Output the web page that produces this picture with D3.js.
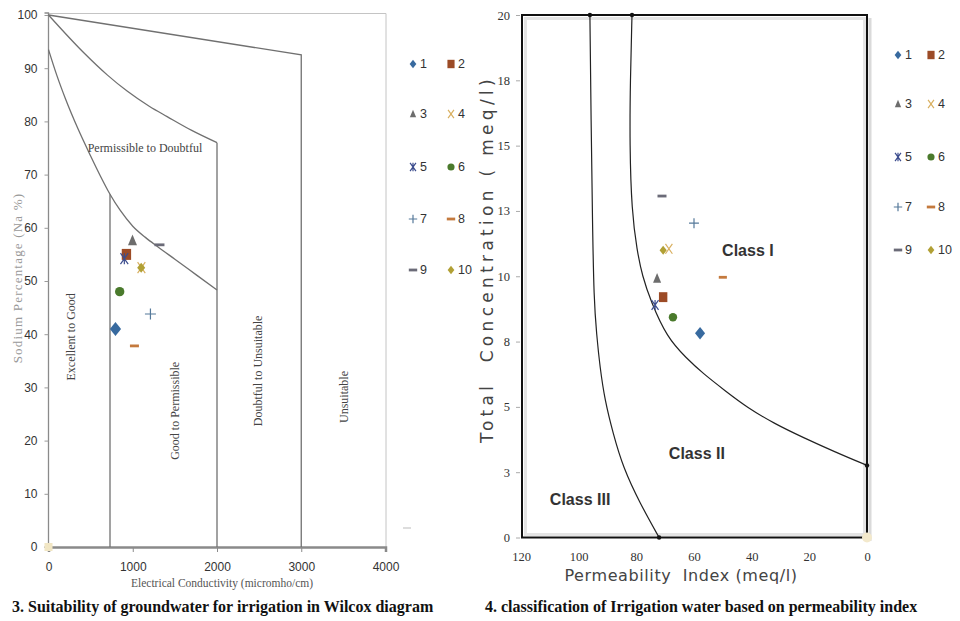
<!DOCTYPE html>
<html><head><meta charset="utf-8">
<script src="https://cdn.jsdelivr.net/npm/d3@7"></script>
<style>body{margin:0;background:#fff}svg{display:block}</style>
</head><body>
<svg id="c" width="960" height="621"></svg>
<script>
// ---------- data ----------
const sampleIds = ["1","2","3","4","5","6","7","8","9","10"];
// Wilcox diagram: EC (micromho/cm) and sodium percentage
const wilcoxEC = [795, 925, 997, 1103, 900, 845, 1210, 1020, 1317, 1100];
const wilcoxNa = [41.0, 55.0, 57.6, 52.5, 54.2, 48.0, 43.8, 37.8, 56.8, 52.5];
// Doneen diagram: permeability index and total concentration
const permIndex = [57.9, 70.7, 72.8, 68.7, 73.5, 67.3, 60.0, 50.0, 71.1, 70.7];
const totalConc = [7.82, 9.2, 9.92, 11.05, 8.9, 8.43, 12.03, 9.96, 13.07, 11.0];

const ecTicks = [0, 1000, 2000, 3000, 4000];
const naTicks = [0, 10, 20, 30, 40, 50, 60, 70, 80, 90, 100];
const piTicks = [120, 100, 80, 60, 40, 20, 0];
const tcTicks = [0, 2.5, 5, 7.5, 10, 12.5, 15, 17.5, 20];
const tcTickLabels = ["0", "3", "5", "8", "10", "13", "15", "18", "20"];

// Wilcox boundary lines [EC, Na%]
const wilcoxLineTop = [[0, 100], [3000, 92.5], [3000, 0]];
const wilcoxCurveMid = [[0, 100], [419, 92.9], [700, 88.7], [933, 85.7], [1200, 82.8], [1408, 80.9], [1700, 78.3], [2000, 76.0]];
const wilcoxVert2000 = [[2000, 76.0], [2000, 0]];
const wilcoxCurveLow = [[0, 93.5], [100, 88.6], [200, 84.3], [350, 78.6], [500, 73.5], [620, 69.6], [730, 66.3],
  [850, 63.3], [1000, 60.3], [1150, 58.2], [1300, 56.4], [1500, 54.1], [1750, 51.2], [2000, 48.3]];
const wilcoxVert730 = [[730, 66.3], [730, 0]];
const wilcoxZones = ["Permissible to Doubtful", "Excellent to Good", "Good to Permissible", "Doubtful to Unsuitable", "Unsuitable"];

// Doneen boundary lines [PI, TC]
const classIIIBoundary = [[96.1, 20], [95.7, 16], [95.2, 12], [94.7, 9.1], [93.8, 7.8], [92.6, 6.5], [90.9, 5.25],
  [88.1, 4.0], [84.6, 2.68], [78.7, 1.3], [72.1, 0]];
const classIBoundary = [[81.5, 20], [82.1, 17.5], [82.3, 15], [81.6, 12.5], [79.8, 11], [77.9, 10],
  [75.0, 9.05], [69.4, 7.66], [62.5, 6.85], [56.9, 6.28], [49, 5.6], [41.6, 4.98], [32, 4.35], [22.2, 3.83], [11, 3.27], [0, 2.76]];
const classNames = ["Class I", "Class II", "Class III"];

// ---------- styles ----------
const markerTypes = ["diamond", "square", "triangle", "x", "star", "circle", "plus", "dash", "dash", "diamond"];
const markerColors = ["#386a9f", "#9c4b26", "#6d6d6d", "#d9b061", "#3c4d8e", "#4a7a2c", "#55799a", "#c47a3e", "#6b6b78", "#b1a035"];
const markerSizes = [7, 5.5, 6, 5.5, 5.5, 5.5, 5.5, 4.5, 5, 5];

const svg = d3.select("#c");

function marker(g, type, r, color) {
  const s = g.append("path");
  let d;
  switch (type) {
    case "diamond": d = `M0,${-r}L${r * 0.8},0L0,${r}L${-r * 0.8},0Z`; s.attr("fill", color); break;
    case "square": d = `M${-r * 0.85},${-r}H${r * 0.85}V${r}H${-r * 0.85}Z`; s.attr("fill", color); break;
    case "triangle": d = `M0,${-r}L${r * 0.75},${r * 0.8}L${-r * 0.75},${r * 0.8}Z`; s.attr("fill", color); break;
    case "circle": d = d3.arc()({innerRadius: 0, outerRadius: r * 0.85, startAngle: 0, endAngle: 2 * Math.PI}); s.attr("fill", color); break;
    case "x": d = `M${-r * 0.7},${-r}L${r * 0.7},${r}M${r * 0.7},${-r}L${-r * 0.7},${r}`; s.attr("fill", "none").attr("stroke", color).attr("stroke-width", 1.2); break;
    case "star": d = `M${-r * 0.7},${-r}L${r * 0.7},${r}M${r * 0.7},${-r}L${-r * 0.7},${r}M0,${-r}V${r}`; s.attr("fill", "none").attr("stroke", color).attr("stroke-width", 1.2); break;
    case "plus": d = `M${-r},0H${r}M0,${-r}V${r}`; s.attr("fill", "none").attr("stroke", color).attr("stroke-width", 1.2); break;
    case "dash": d = `M${-r},-1.4H${r}V1.4H${-r}Z`; s.attr("fill", color); break;
  }
  s.attr("d", d);
}

// ================= LEFT: Wilcox =================
const xL = d3.scaleLinear().domain([0, 4000]).range([48.5, 385.5]);
const yL = d3.scaleLinear().domain([0, 100]).range([547, 15]);
const L = svg.append("g");

// frame
L.append("line").attr("x1", 48).attr("x2", 386).attr("y1", 13.5).attr("y2", 13.5).attr("stroke", "#c4c4c4");
L.append("line").attr("x1", 386).attr("x2", 386).attr("y1", 13.5).attr("y2", 547).attr("stroke", "#c4c4c4");

// axes
const yAxL = d3.axisLeft(yL).tickValues(naTicks).tickSize(4).tickPadding(7);
const gyL = L.append("g").attr("transform", `translate(${xL(0)},0)`).call(yAxL);
gyL.select(".domain").attr("stroke", "#8a8a8a").attr("stroke-width", 1.3).attr("d", `M-4,${yL(100) - 2}H0V${yL(0)}H-4`);
gyL.selectAll(".tick line").attr("stroke", "#9a9a9a");
gyL.selectAll("text").attr("font-family", "Liberation Sans, Arial, sans-serif").attr("font-size", 12).attr("fill", "#333");

const xAxL = d3.axisBottom(xL).tickValues(ecTicks).tickFormat(d3.format("d")).tickSize(5).tickPadding(10);
const gxL = L.append("g").attr("transform", `translate(0,${yL(0)})`).call(xAxL);
gxL.select(".domain").attr("stroke", "#8a8a8a").attr("stroke-width", 2.5);
gxL.selectAll(".tick line").attr("stroke", "#8a8a8a");
gxL.selectAll("text").attr("font-family", "Liberation Sans, Arial, sans-serif").attr("font-size", 12).attr("fill", "#333");

// boundary lines
const lineL = d3.line().x(d => xL(d[0])).y(d => yL(d[1]));
const curveL = d3.line().x(d => xL(d[0])).y(d => yL(d[1])).curve(d3.curveMonotoneX);
[[wilcoxLineTop, lineL], [wilcoxCurveMid, curveL], [wilcoxVert2000, lineL], [wilcoxCurveLow, curveL], [wilcoxVert730, lineL]]
  .forEach(([pts, gen]) => L.append("path").attr("d", gen(pts)).attr("fill", "none").attr("stroke", "#707070").attr("stroke-width", 1.3));

// zone labels
const zoneFont = "Liberation Serif, Times New Roman, serif";
L.append("text").attr("x", xL(1145)).attr("y", yL(75)).attr("text-anchor", "middle").attr("dominant-baseline", "central")
  .attr("font-family", zoneFont).attr("font-size", 12).attr("fill", "#444").text(wilcoxZones[0]);
const rotZones = [[1, 267, 39.5], [2, 1500, 25.6], [3, 2485, 33.1], [4, 3505, 28.2]];
rotZones.forEach(([i, ec, na]) => {
  L.append("text").attr("transform", `translate(${xL(ec)},${yL(na)}) rotate(-90)`).attr("text-anchor", "middle")
    .attr("dominant-baseline", "central").attr("font-family", zoneFont).attr("font-size", 12).attr("fill", "#444").text(wilcoxZones[i]);
});

// axis titles
L.append("text").attr("transform", "translate(17,278) rotate(-90)").attr("text-anchor", "middle").attr("dominant-baseline", "central")
  .attr("font-family", zoneFont).attr("font-size", 13).attr("letter-spacing", 1.2).attr("fill", "#999").text("Sodium Percentage (Na %)");
L.append("text").attr("x", 222).attr("y", 583).attr("text-anchor", "middle").attr("dominant-baseline", "central")
  .attr("font-family", zoneFont).attr("font-size", 11.5).attr("fill", "#555").text("Electrical Conductivity (micromho/cm)");

// origin faint marker
L.append("rect").attr("x", xL(0) - 4).attr("y", yL(0) - 4).attr("width", 8).attr("height", 8).attr("fill", "#f1e6c4");

// points
sampleIds.forEach((id, i) => {
  const g = L.append("g").attr("transform", `translate(${xL(wilcoxEC[i])},${yL(wilcoxNa[i])})`);
  marker(g, markerTypes[i], markerSizes[i], markerColors[i]);
});

// ================= RIGHT: Doneen =================
const xR = d3.scaleLinear().domain([120, 0]).range([521, 867]);
const yR = d3.scaleLinear().domain([0, 20]).range([537.5, 15]);
const R = svg.append("g");

// shadow + frame
R.append("rect").attr("x", 525.5).attr("y", 18.5).attr("width", 339).attr("height", 516).attr("fill", "none").attr("stroke", "#e4e4e4").attr("stroke-width", 3);
R.append("line").attr("x1", 870).attr("x2", 870).attr("y1", 18).attr("y2", 541).attr("stroke", "#dadada").attr("stroke-width", 3);

const yAxR = d3.axisLeft(yR).tickValues(tcTicks).tickFormat((d, i) => tcTickLabels[i]).tickSize(4).tickPadding(6);
const gyR = R.append("g").attr("transform", `translate(${xR(120) - 1},0)`).call(yAxR);
gyR.select(".domain").remove();
gyR.selectAll(".tick line").attr("stroke", "#aaa");
gyR.selectAll("text").attr("font-family", "Liberation Serif, Times New Roman, serif").attr("font-size", 12.5).attr("fill", "#333");

const xAxR = d3.axisBottom(xR).tickValues(piTicks).tickSize(0).tickPadding(15);
const gxR = R.append("g").attr("transform", `translate(0,${yR(0)})`).call(xAxR);
gxR.select(".domain").remove();
gxR.selectAll("text").attr("font-family", "Liberation Serif, Times New Roman, serif").attr("font-size", 12.5).attr("fill", "#333");

R.append("rect").attr("x", 522).attr("y", 15).attr("width", 345).attr("height", 522.5).attr("fill", "none").attr("stroke", "#111").attr("stroke-width", 2);

// boundaries
const curveR = d3.line().x(d => xR(d[0])).y(d => yR(d[1])).curve(d3.curveBasis);
[classIIIBoundary, classIBoundary].forEach(pts => {
  R.append("path").attr("d", curveR(pts)).attr("fill", "none").attr("stroke", "#222").attr("stroke-width", 1.2);
});
[classIIIBoundary[0], classIIIBoundary[classIIIBoundary.length - 1], classIBoundary[0], classIBoundary[classIBoundary.length - 1]]
  .forEach(p => R.append("circle").attr("cx", xR(p[0])).attr("cy", yR(p[1])).attr("r", 2.2).attr("fill", "#111"));

// class labels
const classPos = [[41.3, 11.0], [59, 3.2], [99.5, 1.45]];
classNames.forEach((n, i) => {
  R.append("text").attr("x", xR(classPos[i][0])).attr("y", yR(classPos[i][1])).attr("text-anchor", "middle").attr("dominant-baseline", "central")
    .attr("font-family", "Liberation Sans, Arial, sans-serif").attr("font-weight", "bold").attr("font-size", 16).attr("fill", "#333").text(n);
});

// axis titles
R.append("text").attr("transform", "translate(487,259) rotate(-90)").attr("text-anchor", "middle").attr("dominant-baseline", "central")
  .attr("font-family", "DejaVu Sans, Verdana, sans-serif").attr("font-size", 17).attr("letter-spacing", 4.3).attr("fill", "#444")
  .style("white-space", "pre").text("Total  Concentration ( meq/l)");
R.append("text").attr("x", 681).attr("y", 575).attr("text-anchor", "middle").attr("dominant-baseline", "central")
  .attr("font-family", "DejaVu Sans, Verdana, sans-serif").attr("font-size", 16).attr("letter-spacing", 0.6).attr("fill", "#444")
  .style("white-space", "pre").text("Permeability  Index (meq/l)");

// origin faint marker
R.append("circle").attr("cx", xR(0)).attr("cy", yR(0)).attr("r", 5).attr("fill", "#f3e9cc");

// points
sampleIds.forEach((id, i) => {
  const g = R.append("g").attr("transform", `translate(${xR(permIndex[i])},${yR(totalConc[i])})`);
  marker(g, markerTypes[i], markerSizes[i] * 0.9, markerColors[i]);
});

// ================= legends =================
function legend(colX, textX, rowY) {
  sampleIds.forEach((id, i) => {
    const c = i % 2, r = Math.floor(i / 2);
    const g = svg.append("g").attr("transform", `translate(${colX[c]},${rowY[r]})`);
    marker(g, markerTypes[i], 4.2, markerColors[i]);
    svg.append("text").attr("x", textX[c]).attr("y", rowY[r]).attr("dominant-baseline", "central")
      .attr("font-family", "Liberation Sans, Arial, sans-serif").attr("font-size", 12.5).attr("fill", "#333").text(id);
  });
}
legend([413, 451], [420, 458], [64, 114, 167, 219, 270]);
legend([898, 931], [905, 938], [55, 104, 157, 207, 250]);
svg.append("line").attr("x1", 403).attr("x2", 411).attr("y1", 528).attr("y2", 528).attr("stroke", "#ddd").attr("stroke-width", 2);

// ================= captions =================
svg.append("text").attr("x", 12).attr("y", 612).attr("font-family", "Liberation Serif, Times New Roman, serif").attr("font-weight", "bold")
  .attr("font-size", 16).attr("fill", "#111").text("3. Suitability of groundwater for irrigation in Wilcox diagram");
svg.append("text").attr("x", 485).attr("y", 612).attr("font-family", "Liberation Serif, Times New Roman, serif").attr("font-weight", "bold")
  .attr("font-size", 16).attr("fill", "#111").text("4. classification of Irrigation water based on permeability index");
</script>
</body></html>
